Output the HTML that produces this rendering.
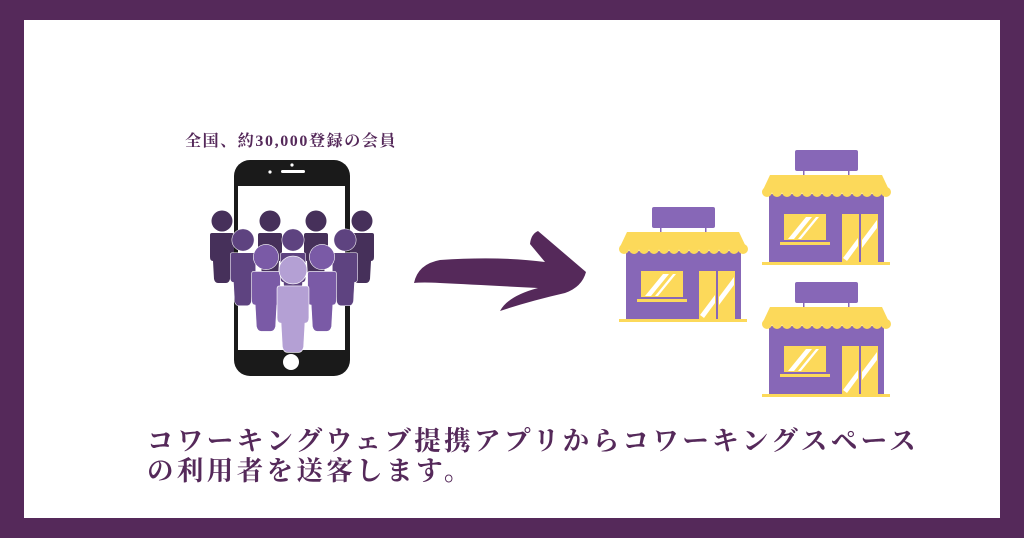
<!DOCTYPE html>
<html><head><meta charset="utf-8"><style>
html,body{margin:0;padding:0;width:1024px;height:538px;overflow:hidden;background:#55295a;}
#w{position:absolute;left:24px;top:20px;width:976px;height:498px;background:#fff;}
.t{position:absolute;font-family:"Liberation Serif","Noto Serif CJK SC","Noto Serif CJK JP",serif;font-weight:bold;color:#55295a;white-space:nowrap;}
</style></head><body>
<div id="w"></div>
<svg width="1024" height="538" style="position:absolute;left:0;top:0">
<defs>
<path id="bd" d="M-12,14 Q-12,12 -10,12 L10,12 Q12,12 12,14 L12,36 Q12,40 9,40 L8,58 Q7,62 4,62 L-4,62 Q-7,62 -8,58 L-9,40 Q-12,40 -12,36 Z"/>
<g id="p"><circle cx="0" cy="0" r="10.5"/><use href="#bd"/></g>
<g id="shop">
<rect x="33" y="0" width="63" height="21" rx="2" fill="#8767b7"/>
<rect x="41" y="21" width="1.5" height="5" fill="#8767b7"/><rect x="86" y="21" width="1.5" height="5" fill="#8767b7"/>
<rect x="7" y="44" width="115" height="69" fill="#8767b7"/>
<polygon points="8,25 120,25 128,42 0,42" fill="#fcd95a"/>
<g fill="#fcd95a"><circle cx="5" cy="42" r="5"/><circle cx="15" cy="42" r="5"/><circle cx="25" cy="42" r="5"/><circle cx="35" cy="42" r="5"/><circle cx="45" cy="42" r="5"/><circle cx="55" cy="42" r="5"/><circle cx="65" cy="42" r="5"/><circle cx="75" cy="42" r="5"/><circle cx="85" cy="42" r="5"/><circle cx="95" cy="42" r="5"/><circle cx="105" cy="42" r="5"/><circle cx="115" cy="42" r="5"/><circle cx="124" cy="42" r="5"/></g>
<rect x="22" y="64" width="42" height="26" fill="#fcd95a"/>
<polygon points="26,89 44,67 50,67 32,89" fill="#fff"/><polygon points="36,89 54,67 57,67 39,89" fill="#fff"/>
<rect x="18" y="92" width="50" height="3" fill="#fcd95a"/>
<rect x="80" y="64" width="36" height="48" fill="#fcd95a"/>
<rect x="97" y="64" width="2" height="48" fill="#8767b7"/>
<polygon points="81,108 96,88 96,96 85,111" fill="#fff"/><polygon points="100,90 115,70 115,78 100,98" fill="#fff"/>
<rect x="0" y="112" width="128" height="3" fill="#fcd95a"/>
</g>
</defs>
<rect x="234" y="160" width="116" height="216" rx="16" fill="#1a1a1a"/>
<rect x="238" y="186" width="107" height="164" fill="#fff"/>
<rect x="281" y="170" width="24" height="3" rx="1.5" fill="#fff"/>
<circle cx="270" cy="172" r="1.6" fill="#fff"/><circle cx="292" cy="165" r="1.6" fill="#fff"/>
<circle cx="291" cy="362" r="8" fill="#fff"/>
<g fill="#46305a">
<use href="#p" transform="translate(222,221)"/><use href="#p" transform="translate(270,221)"/><use href="#p" transform="translate(316,221)"/><use href="#p" transform="translate(362,221)"/>
</g>
<g fill="#5e4380" stroke="#fff" stroke-width="0.5">
<use href="#p" transform="translate(243,240) scale(1.06)"/><use href="#p" transform="translate(293,240) scale(1.06)"/><use href="#p" transform="translate(345,240) scale(1.06)"/>
</g>
<g fill="#7a5aa6" stroke="#fff" stroke-width="0.5">
<use href="#p" transform="translate(266,257) scale(1.2)"/><use href="#p" transform="translate(322,257) scale(1.2)"/>
</g>
<g fill="#b4a0d4" stroke="#fff" stroke-width="0.5">
<use href="#p" transform="translate(293,270) scale(1.33)"/>
</g>
<path d="M414,283 Q418,264 440,260 Q500,256 545,262 L530,244 Q531,234 538,231 L586,272 Q582,287 565,293 Q530,301 500,311 Q508,296 538,288 Q480,285 440,283 Q422,282 414,283 Z" fill="#55295a"/>
<use href="#shop" transform="translate(762,150)"/>
<use href="#shop" transform="translate(619,207)"/>
<use href="#shop" transform="translate(762,282)"/>
</svg>
<div class="t" style="left:185px;top:132px;font-size:16px;line-height:20px;letter-spacing:1.6px;">全国、約30,000登録の会員</div>
<div class="t" style="left:147px;top:426px;font-size:26.5px;line-height:30px;letter-spacing:3.4px;">コワーキングウェブ提携アプリからコワーキングスペース<br>の利用者を送客します。</div>
</body></html>
